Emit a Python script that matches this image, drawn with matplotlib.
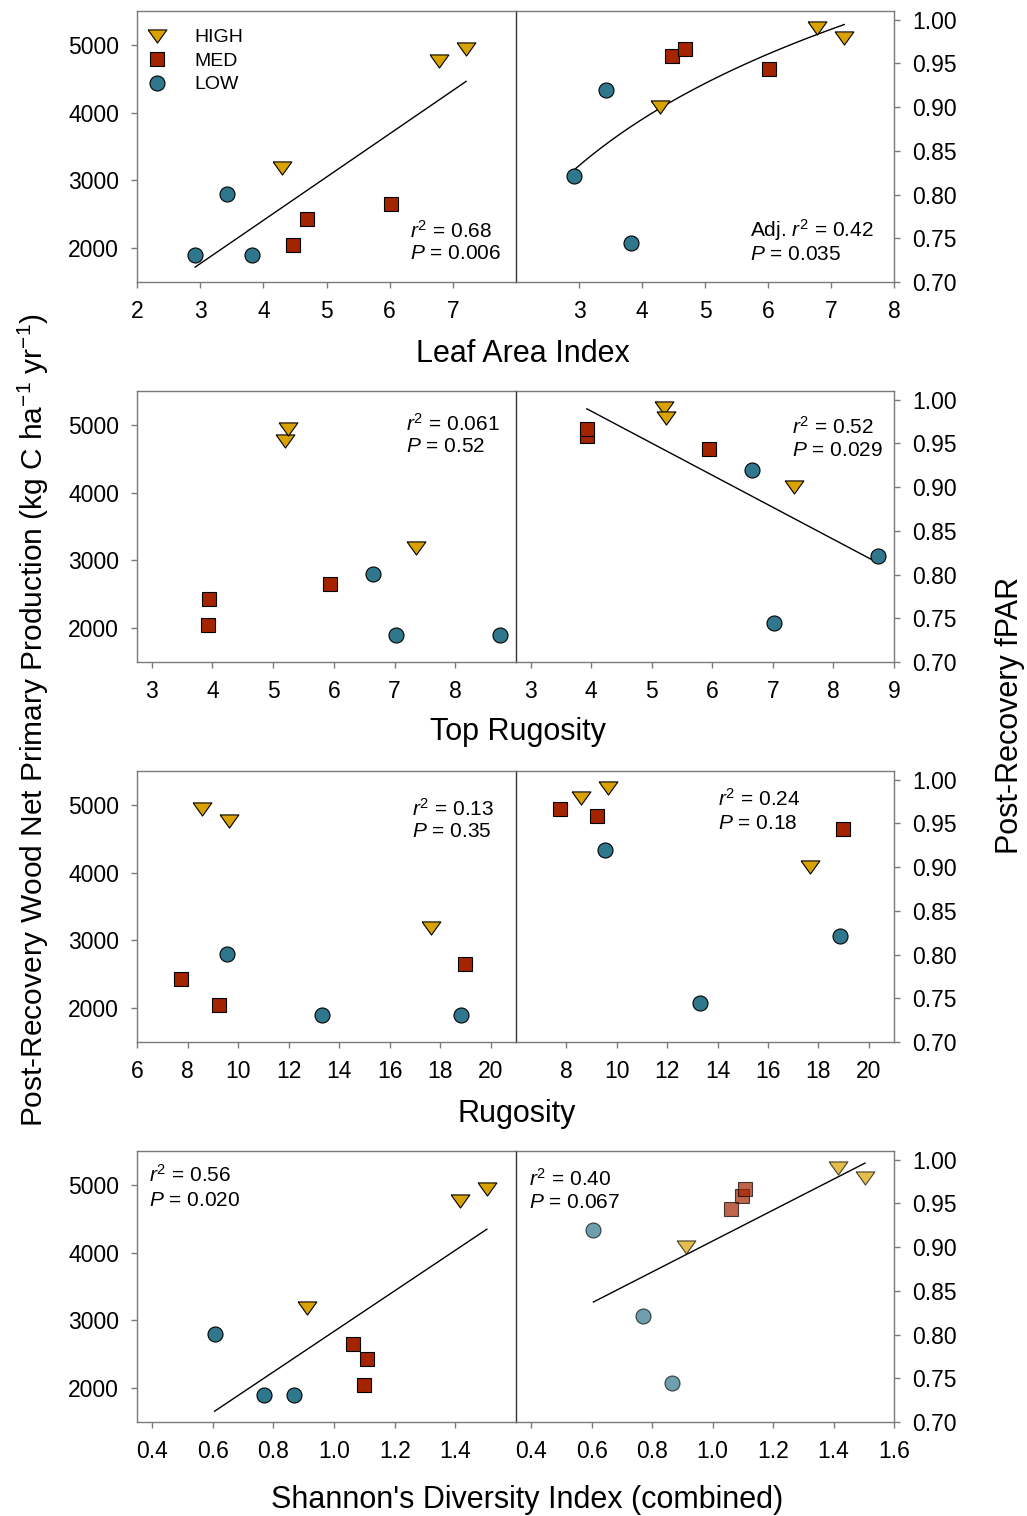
import matplotlib
matplotlib.use('Agg')
import matplotlib.pyplot as plt
import numpy as np

plt.rcParams['font.family'] = ['Liberation Sans', 'DejaVu Sans']
plt.rcParams['mathtext.fontset'] = 'custom'
plt.rcParams['mathtext.rm'] = 'Liberation Sans'
plt.rcParams['mathtext.it'] = 'Liberation Sans:italic'

# nine plots, three per disturbance class
site_group = ['HIGH', 'HIGH', 'HIGH', 'MED', 'MED', 'MED', 'LOW', 'LOW', 'LOW']
npp = [4759, 4936, 3176, 2044, 2423, 2645, 1897, 2792, 1892]
fpar = [0.990, 0.979, 0.900, 0.958, 0.966, 0.944, 0.821, 0.920, 0.745]
lai = [6.78, 7.21, 4.29, 4.47, 4.69, 6.02, 2.92, 3.43, 3.82]
top_rug = [5.20, 5.24, 7.35, 3.93, 3.94, 5.94, 8.73, 6.65, 7.02]
rug = [9.65, 8.59, 17.65, 9.23, 7.75, 18.99, 18.84, 9.55, 13.32]
shannon = [1.415, 1.504, 0.911, 1.099, 1.107, 1.062, 0.770, 0.606, 0.867]

group_order = ['HIGH', 'MED', 'LOW']
colors = {'HIGH': '#d9a200', 'MED': '#a52400', 'LOW': '#2f778c'}
markers = {'HIGH': [(-1, 0.7), (1, 0.7), (0, -0.7), (-1, 0.7)], 'MED': 's', 'LOW': 'o'}
msizes = {'HIGH': 13.5, 'MED': 9.8, 'LOW': 10.8}

W, H = 1027, 1516
row_tops = [11, 391, 771, 1151]
AX_H = 271

rows = [
    dict(x=lai, label='Leaf Area Index', label_xy=(523, 354), xlim=(2, 8),
         lticks=[2, 3, 4, 5, 6, 7], rticks=[3, 4, 5, 6, 7, 8], fmt='%d',
         lstat=('$\\it{r}^2$ = 0.68', '$\\it{P}$ = 0.006', 0.72, 0.19, 0.105), lfit='lin',
         rstat=('Adj. $\\it{r}^2$ = 0.42', '$\\it{P}$ = 0.035', 0.62, 0.19, 0.10), rfit='log'),
    dict(x=top_rug, label='Top Rugosity', label_xy=(518, 732), xlim=(2.76, 9.0),
         lticks=[3, 4, 5, 6, 7, 8], rticks=[3, 4, 5, 6, 7, 8, 9], fmt='%d',
         lstat=('$\\it{r}^2$ = 0.061', '$\\it{P}$ = 0.52', 0.71, 0.88, 0.795), lfit=None,
         rstat=('$\\it{r}^2$ = 0.52', '$\\it{P}$ = 0.029', 0.73, 0.868, 0.779), rfit='lin'),
    dict(x=rug, label='Rugosity', label_xy=(517, 1114), xlim=(6, 21),
         lticks=[6, 8, 10, 12, 14, 16, 18, 20], rticks=[8, 10, 12, 14, 16, 18, 20], fmt='%d',
         lstat=('$\\it{r}^2$ = 0.13', '$\\it{P}$ = 0.35', 0.725, 0.862, 0.776), lfit=None,
         rstat=('$\\it{r}^2$ = 0.24', '$\\it{P}$ = 0.18', 0.535, 0.896, 0.807), rfit=None),
    dict(x=shannon, label="Shannon's Diversity Index (combined)", label_xy=(527, 1500), xlim=(0.35, 1.6),
         lticks=[0.4, 0.6, 0.8, 1.0, 1.2, 1.4], rticks=[0.4, 0.6, 0.8, 1.0, 1.2, 1.4, 1.6], fmt='%.1f',
         lstat=('$\\it{r}^2$ = 0.56', '$\\it{P}$ = 0.020', 0.032, 0.911, 0.819), lfit='lin',
         rstat=('$\\it{r}^2$ = 0.40', '$\\it{P}$ = 0.067', 0.035, 0.897, 0.811), rfit='lin'),
]

grey = '#7a7a7a'


def box(x0, top, w, h):
    return [x0 / W, 1 - (top + h) / H, w / W, h / H]


def scatter(ax, x, y, alpha=1.0):
    x = np.asarray(x)
    y = np.asarray(y)
    g = np.asarray(site_group)
    for name in group_order:
        m = g == name
        ax.plot(x[m], y[m], ls='none', marker=markers[name], ms=msizes[name],
                mfc=colors[name], mec='black', mew=0.8, alpha=alpha, zorder=3, label=name)


def add_fit(ax, x, y, kind):
    if kind is None:
        return
    x = np.asarray(x, dtype=float)
    y = np.asarray(y, dtype=float)
    xs = np.linspace(x.min(), x.max(), 100)
    if kind == 'log':
        b = np.polyfit(np.log(x), y, 1)
        ys = np.polyval(b, np.log(xs))
    else:
        b = np.polyfit(x, y, 1)
        ys = np.polyval(b, xs)
    ax.plot(xs, ys, color='black', lw=1.0, zorder=2)


def style(ax, side):
    for s in ax.spines.values():
        s.set_color(grey)
        s.set_linewidth(1.0)
    if side == 'left':
        ax.spines['right'].set_visible(False)
        ax.yaxis.tick_left()
    else:
        ax.spines['left'].set_color('#333333')
        ax.yaxis.tick_right()
    ax.tick_params(axis='both', direction='out', length=4, width=1, color=grey,
                   labelsize=16.5, pad=9)
    ax.tick_params(axis='y', which='both', left=(side == 'left'), right=(side == 'right'))
    ax.xaxis.tick_bottom()


def stat_text(ax, st):
    l1, l2, tx, y1, y2 = st
    ax.text(tx, y1, l1, transform=ax.transAxes, fontsize=15, ha='left', va='center')
    ax.text(tx, y2, l2, transform=ax.transAxes, fontsize=15, ha='left', va='center')


fig = plt.figure(figsize=(W / 100, H / 100), dpi=100)

for i, r in enumerate(rows):
    top = row_tops[i]
    axl = fig.add_axes(box(137, top, 379, AX_H))
    axr = fig.add_axes(box(516, top, 378, AX_H))
    axr.patch.set_alpha(0)

    scatter(axl, r['x'], npp)
    add_fit(axl, r['x'], npp, r['lfit'])
    scatter(axr, r['x'], fpar, alpha=0.7 if i == 3 else 1.0)
    add_fit(axr, r['x'], fpar, r['rfit'])

    for ax, side, ticks in ((axl, 'left', r['lticks']), (axr, 'right', r['rticks'])):
        style(ax, side)
        ax.set_xlim(r['xlim'])
        ax.set_xticks(ticks)
        ax.set_xticklabels([r['fmt'] % t for t in ticks])

    axl.set_ylim(1500, 5500)
    axl.set_yticks([2000, 3000, 4000, 5000])
    axr.set_ylim(0.70, 1.01)
    yt = [0.70, 0.75, 0.80, 0.85, 0.90, 0.95, 1.00]
    axr.set_yticks(yt)
    axr.set_yticklabels(['%.2f' % t for t in yt])

    stat_text(axl, r['lstat'])
    stat_text(axr, r['rstat'])

    fig.text(r['label_xy'][0] / W, 1 - r['label_xy'][1] / H, r['label'],
             ha='center', va='center', fontsize=22)

    if i == 0:
        axl.legend(loc='upper left', bbox_to_anchor=(0.005, 0.965), frameon=False,
                   fontsize=14, numpoints=1, handlelength=1.0, handletextpad=1.4,
                   labelspacing=0.3, borderaxespad=0, borderpad=0.43)

fig.text(33 / W, 1 - 720 / H,
         'Post-Recovery Wood Net Primary Production (kg C ha$^{-1}$ yr$^{-1}$)',
         rotation=90, ha='center', va='center', fontsize=21.5)
fig.text(1010 / W, 1 - 715 / H, 'Post-Recovery fPAR',
         rotation=90, ha='center', va='center', fontsize=22)

fig.savefig('out.png', dpi=100)
